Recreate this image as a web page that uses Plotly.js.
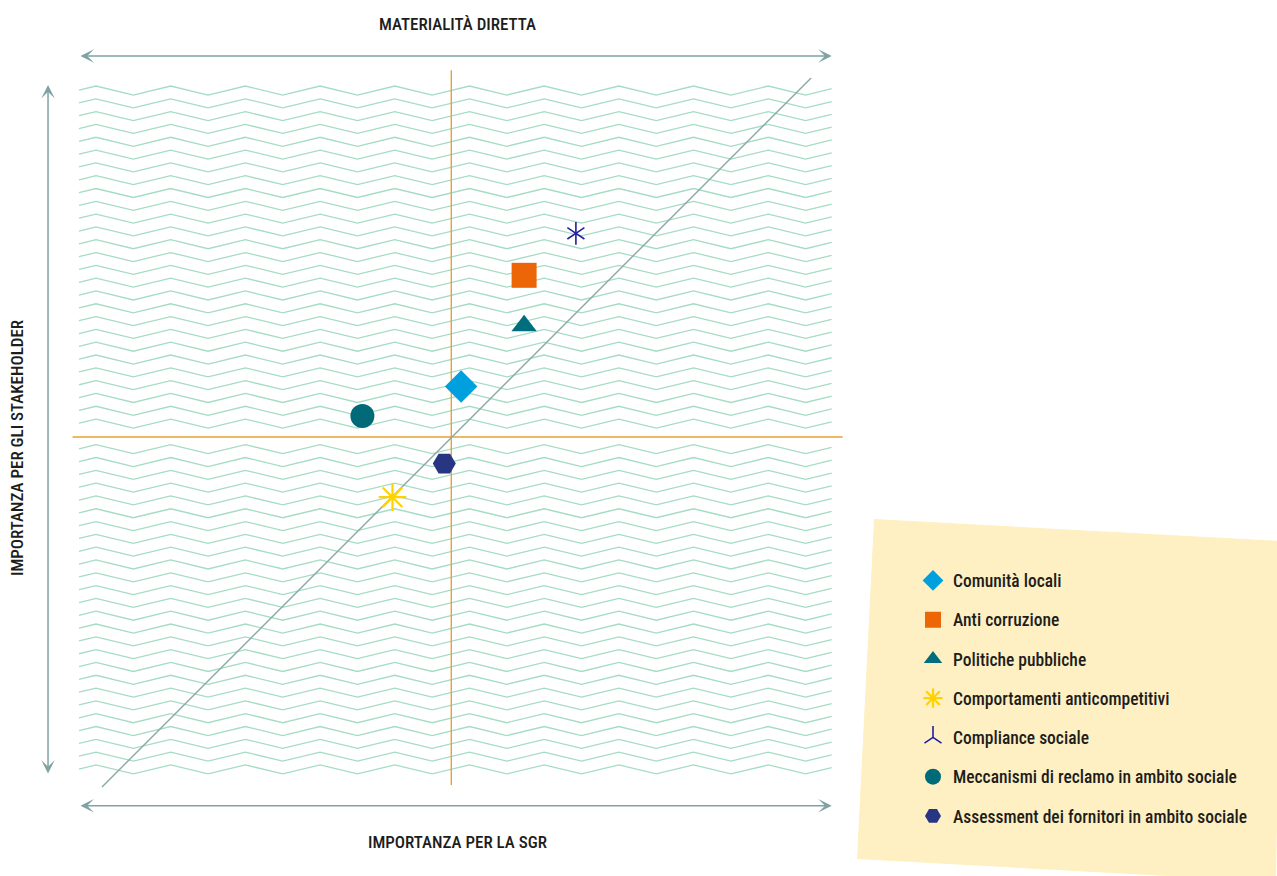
<!DOCTYPE html>
<html>
<head>
<meta charset="utf-8">
<script src="https://cdn.plot.ly/plotly-3.0.1.min.js"></script>
<style>
  html, body { margin: 0; padding: 0; background: #ffffff; }
  #chart { width: 1277px; height: 876px; }
</style>
</head>
<body>
<div id="chart"></div>
<script>
// ---------- DATA ----------
const topics = [
  "Comunità locali",
  "Anti corruzione",
  "Politiche pubbliche",
  "Comportamenti anticompetitivi",
  "Compliance sociale",
  "Meccanismi di reclamo in ambito sociale",
  "Assessment dei fornitori in ambito sociale"
];
// Importanza per la SGR (x) and importanza per gli stakeholder (y), centre of matrix = 5
const importanzaSGR =         [5.13, 6.03, 6.03, 4.15, 6.77, 3.72, 4.89];
const importanzaStakeholder = [5.72, 7.31, 6.59, 4.14, 7.91, 5.30, 4.62];

const axisTitleTop = "MATERIALITÀ DIRETTA";
const axisTitleBottom = "IMPORTANZA PER LA SGR";
const axisTitleLeft = "IMPORTANZA PER GLI STAKEHOLDER";

// ---------- STYLES ----------
const markerColors = ["#00a0df", "#ec6608", "#006e7c", "#ffd200", "#1f1fa0", "#006a78", "#283583"];
const markerSymbols = ["diamond", "square", "triangle-up", "asterisk-open", "y-up-open", "circle", "hexagon2"];
const markerSizes = [25, 25, 22, 23, 14.2, 24, 23];

const FONT = "'Roboto Condensed', Roboto, 'Noto Sans', sans-serif";
const TEXT_COLOR = "#1d1d1b";

// ---------- TRACES ----------
const traces = topics.map((name, i) => {
  const isOpen = markerSymbols[i].endsWith("-open");
  return {
    type: "scatter",
    mode: "markers",
    name: name,
    legendgroup: "g" + i,
    x: [importanzaSGR[i]],
    y: [importanzaStakeholder[i]],
    hoverinfo: "name",
    marker: {
      symbol: markerSymbols[i],
      size: markerSizes[i],
      color: markerColors[i],
      line: isOpen ? { color: markerColors[i], width: i === 4 ? 1.6 : 2.2 } : { width: 0 }
    }
  };
});
// second half of the six-armed star for "Compliance sociale"
traces.push({
  type: "scatter",
  mode: "markers",
  name: topics[4],
  legendgroup: "g4",
  showlegend: false,
  x: [importanzaSGR[4]],
  y: [importanzaStakeholder[4]],
  hoverinfo: "name",
  marker: { symbol: "y-down-open", size: markerSizes[4], color: markerColors[4],
            line: { color: markerColors[4], width: 1.6 } }
});

// ---------- DECORATION: zig-zag background ----------
const shapes = [];
const zzColor = "#a5dcc4";
const X0 = -0.3286, X1 = 10.4243;
const firstPeakX = -0.0857, period = 1.0671, half = period / 2;
const amp = 9 / 70, gap = 12.81 / 70, topPeak = 10.014;
function zzY(x, peak) {
  let t = ((x - firstPeakX) % period + period) % period;
  return t < half ? peak - amp * (t / half) : peak - amp + amp * ((t - half) / half);
}
for (let k = 0; k < 54; k++) {
  if (k === 27) continue;
  const peak = topPeak - k * gap;
  const pts = [[X0, zzY(X0, peak)]];
  let v = firstPeakX - period;
  while (v < X1) {
    if (v > X0) pts.push([v, peak]);
    const tr = v + half;
    if (tr > X0 && tr < X1) pts.push([tr, peak - amp]);
    v += period;
  }
  pts.push([X1, zzY(X1, peak)]);
  shapes.push({
    type: "path", xref: "x", yref: "y", layer: "below",
    path: "M" + pts.map(p => p[0].toFixed(4) + "," + p[1].toFixed(4)).join("L"),
    line: { color: zzColor, width: 1.3 }
  });
}
// quadrant lines
shapes.push({ type: "line", xref: "x", yref: "y", layer: "below", x0: 4.99, x1: 4.99, y0: 0.03, y1: 10.24,
              line: { color: "#e9a232", width: 1.4 } });
shapes.push({ type: "line", xref: "x", yref: "y", layer: "below", x0: -0.42, x1: 10.58, y0: 5.0, y1: 5.0,
              line: { color: "#e9a232", width: 1.4 } });
// diagonal
shapes.push({ type: "line", xref: "x", yref: "y", layer: "below", x0: 0, y0: 0, x1: 10.13, y1: 10.13,
              line: { color: "#8ba8a8", width: 1.4 } });

// legend background (slightly tilted note), paper coords: px -> (px-40)/810, py -> (820-py)/780
function px(x) { return (x - 40) / 810; }
function py(y) { return (820 - y) / 780; }
shapes.push({
  type: "path", xref: "paper", yref: "paper", layer: "below",
  path: "M" + px(874) + "," + py(519) + "L" + px(1282) + "," + py(541) +
        "L" + px(1276) + "," + py(882) + "L" + px(857) + "," + py(859) + "Z",
  fillcolor: "#fef0c3", line: { width: 0 }
});

// ---------- ARROWS & TITLES ----------
const arrowColor = "#7fa3a3";
function dblArrow(x, y, ax, ay) {
  return { x: x, y: y, ax: ax, ay: ay, xref: "x", yref: "y", axref: "x", ayref: "y",
           text: "", showarrow: true, arrowside: "end+start",
           arrowhead: 3, startarrowhead: 3, arrowsize: 1.5, startarrowsize: 1.5,
           arrowwidth: 1.5, arrowcolor: arrowColor, standoff: 0, startstandoff: 0 };
}
const titleFont = { family: FONT, size: 17, color: TEXT_COLOR, weight: 500 };
const annotations = [
  dblArrow(10.4243, 10.443, -0.3286, 10.443),
  dblArrow(10.4243, -0.267, -0.3286, -0.267),
  dblArrow(-0.771, 10.029, -0.771, 0.171),
  { text: axisTitleTop, xref: "paper", yref: "paper", x: px(457), y: py(24), showarrow: false,
    xanchor: "center", yanchor: "middle", font: titleFont },
  { text: axisTitleBottom, xref: "paper", yref: "paper", x: px(457), y: py(842), showarrow: false,
    xanchor: "center", yanchor: "middle", font: titleFont },
  { text: axisTitleLeft, xref: "paper", yref: "paper", x: px(17), y: py(448), showarrow: false,
    xanchor: "center", yanchor: "middle", textangle: -90, font: titleFont }
];

const layout = {
  width: 1277, height: 876,
  paper_bgcolor: "#ffffff", plot_bgcolor: "rgba(0,0,0,0)",
  margin: { l: 40, r: 427, t: 40, b: 56, autoexpand: false },
  xaxis: { range: [-0.885714, 10.685714], visible: false, fixedrange: true },
  yaxis: { range: [-0.471429, 10.671429], visible: false, fixedrange: true },
  showlegend: true,
  legend: {
    x: px(913), y: py(562.5), xanchor: "left", yanchor: "top",
    bgcolor: "rgba(0,0,0,0)", borderwidth: 0,
    font: { family: FONT, size: 17.5, color: TEXT_COLOR, weight: 500 },
    tracegroupgap: 13.5, itemclick: false, itemdoubleclick: false
  },
  shapes: shapes,
  annotations: annotations,
  hovermode: "closest"
};

Plotly.newPlot("chart", traces, layout, { displayModeBar: false, staticPlot: true });
</script>
</body>
</html>
